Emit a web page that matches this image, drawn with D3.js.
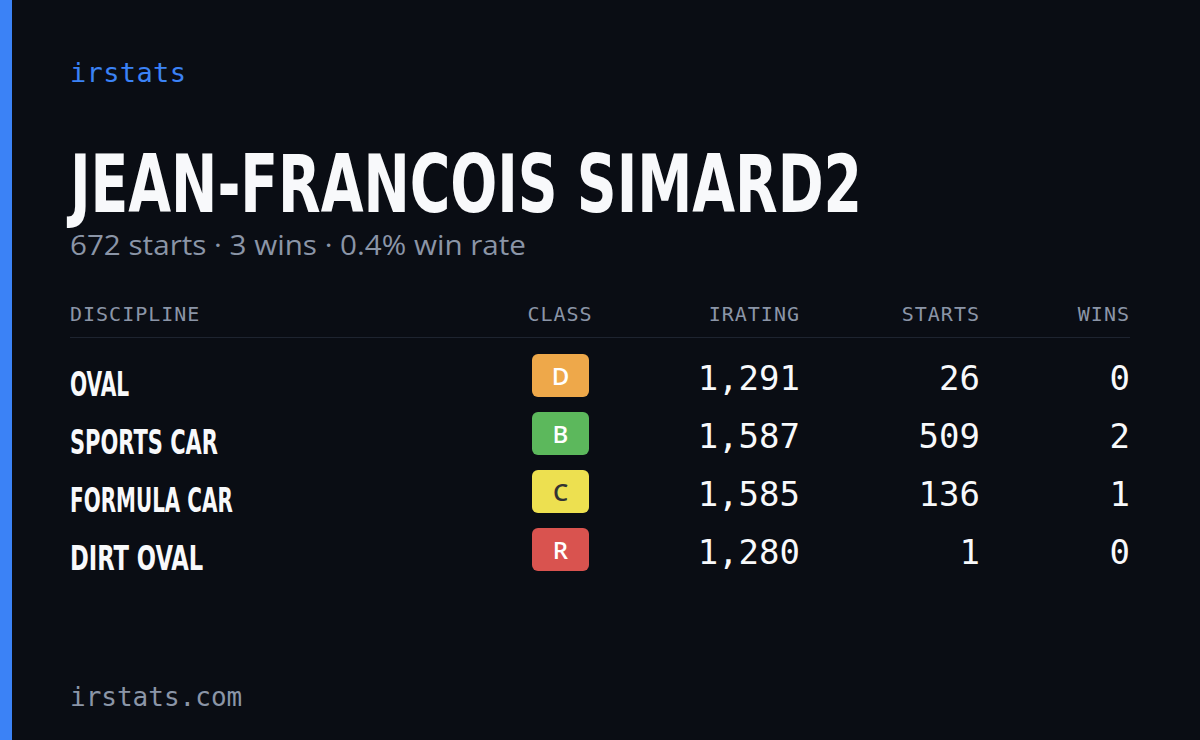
<!DOCTYPE html>
<html><head><meta charset="utf-8">
<script src="https://cdn.jsdelivr.net/npm/d3@7"></script>
<style>body{margin:0;background:#0a0d14}</style>
</head><body><svg id="c" width="1200" height="740"></svg>
<script>
const disciplines = ["OVAL","SPORTS CAR","FORMULA CAR","DIRT OVAL"];
const classes = ["D","B","C","R"];
const classColors = {D:"#eea84a",B:"#5cb85c",C:"#ede050",R:"#d9534f"};
const iratings = [1291,1587,1585,1280];
const starts = [26,509,136,1];
const wins = [0,2,1,0];
const headers = ["DISCIPLINE","CLASS","IRATING","STARTS","WINS"];

const svg = d3.select("#c");
svg.append("rect").attr("width",1200).attr("height",740).attr("fill","#0a0d14");
svg.append("rect").attr("width",12).attr("height",740).attr("fill","#3b82f6");
const mono = "'DejaVu Sans Mono','Liberation Mono',monospace";
const cond = "'DejaVu Sans Condensed','Liberation Sans Narrow',sans-serif";
svg.append("text").attr("x",70).attr("y",82).text("irstats").attr("fill","#3b82f6").attr("font-family",mono).attr("font-size",27).attr("textLength",116);
svg.append("text").attr("x",70).attr("y",212).text("JEAN-FRANCOIS SIMARD2").attr("fill","#f8f9fb")
  .attr("font-family",cond).attr("font-weight","bold").attr("font-size",80).attr("textLength",792).attr("lengthAdjust","spacingAndGlyphs");
const totS=d3.sum(starts), totW=d3.sum(wins);
svg.append("text").attr("x",70).attr("y",255).text(`${totS} starts · ${totW} wins · ${(totW/totS*100).toFixed(1)}% win rate`)
  .attr("fill","#8b95a7").attr("font-family","'Open Sans',sans-serif").attr("font-size",27).attr("textLength",456).attr("lengthAdjust","spacingAndGlyphs");
const cols=[{x:70,a:"start"},{x:560,a:"middle"},{x:800,a:"end"},{x:980,a:"end"},{x:1130,a:"end"}];
headers.forEach((h,i)=>svg.append("text").attr("x",cols[i].x).attr("y",321).attr("text-anchor",cols[i].a).text(h)
  .attr("fill","#8b95a7").attr("font-family",mono).attr("font-size",20).attr("letter-spacing",1));
svg.append("line").attr("x1",70).attr("x2",1130).attr("y1",337.5).attr("y2",337.5).attr("stroke","#1e2430");
const y=d3.scaleBand().domain(disciplines).range([346,578]);
const fmt=d3.format(",");
disciplines.forEach((d,i)=>{
  const yy=y(d);
  const g=svg.append("g");
  g.append("text").attr("x",70).attr("y",yy+50).text(d).attr("fill","#f8f9fb").attr("font-family",cond).attr("font-weight","bold").attr("font-size",33)
   .attr("textLength",d.length*14.8).attr("lengthAdjust","spacingAndGlyphs");
  g.append("rect").attr("x",532).attr("y",yy+8).attr("width",57).attr("height",43).attr("rx",6).attr("fill",classColors[classes[i]]);
  g.append("text").attr("x",560.5).attr("y",yy+39).attr("text-anchor","middle").text(classes[i]).attr("fill",classes[i]==="C"?"#333":"#fff")
   .attr("font-family","'Open Sans',sans-serif").attr("font-weight",600).attr("font-size",24);
  [[fmt(iratings[i]),800],[starts[i],980],[wins[i],1130]].forEach(([t,x])=>
    g.append("text").attr("x",x).attr("y",yy+44).attr("text-anchor","end").text(t).attr("fill","#f8f9fb").attr("font-family",mono).attr("font-weight",500).attr("font-size",34));
});
svg.append("text").attr("x",70).attr("y",706).text("irstats.com").attr("fill","#8b95a7").attr("font-family",mono).attr("font-size",26);
</script></body></html>
